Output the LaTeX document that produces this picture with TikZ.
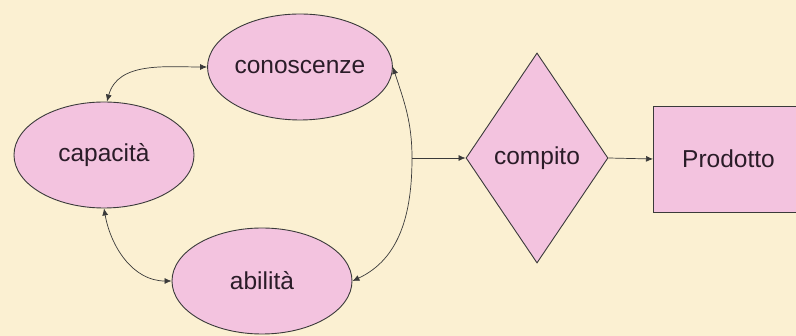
\documentclass[tikz,border=0pt]{standalone}
\usepackage{fontspec}
\setmainfont{Liberation Sans}
\usetikzlibrary{shapes.geometric,arrows.meta}
\definecolor{bg}{HTML}{FBF0D2}
\definecolor{pinkfill}{HTML}{F3C3DF}
\definecolor{edge}{HTML}{3A3A3A}
\definecolor{txt}{HTML}{2A1C28}
\tikzset{
  shapebase/.style={draw=edge, line width=0.9pt, fill=pinkfill, inner sep=0pt, text=txt, font=\fontsize{24.5}{28}\selectfont},
  ell/.style={shapebase, ellipse, minimum width=180pt, minimum height=106pt},
  dia/.style={shapebase, diamond, minimum width=142pt, minimum height=210pt},
  boxtext/.style={inner sep=0pt, text=txt, font=\fontsize{24.5}{28}\selectfont, minimum height=106pt},
  conn/.style={draw=edge, line width=0.7pt, -{Latex[length=7pt,width=6pt]}},
  bconn/.style={draw=edge, line width=0.7pt, {Latex[length=7pt,width=6pt]}-{Latex[length=7pt,width=6pt]}}
}
\begin{document}
\begin{tikzpicture}[x=1pt,y=-1pt]
\useasboundingbox (0,0) rectangle (796,336);
\fill[bg] (0,0) rectangle (796,336);
% Prodotto box (runs past the right edge)
\coordinate (bnw) at (653,106);
\coordinate (bse) at (800,212);
\fill[pinkfill] (bnw) rectangle (bse);
\draw[edge, line width=0.9pt] (bnw -| bse) -- (bnw) -- (bnw |- bse) -- (bse);
\node[boxtext, anchor=west] (prod) at (653,159) {\makebox[143pt][l]{\hspace{29pt}Prodotto}};
\node[ell] (con) at (300,67) {conoscenze};
\node[ell] (cap) at (104,155) {capacità};
\node[ell] (abi) at (262,281) {abilità};
\node[dia] (comp) at (537,158) {compito};
\coordinate (j) at (412,158);
\coordinate (capn) at ([xshift=3pt]cap.north);
\draw[bconn] (capn) to[out=75,in=180] (con.west);
\draw[bconn] (cap.south) to[out=-80,in=180] (abi.west);
\draw[draw=edge, line width=0.7pt, {Latex[length=7pt,width=6pt]}-] (con.east) to[out=-72,in=90] (j);
\draw[conn] (j) to[out=-90,in=25] (abi.east);
\draw[conn] (j) -- (comp.west);
\draw[conn] (comp.east) -- (prod.west);
\end{tikzpicture}
\end{document}
